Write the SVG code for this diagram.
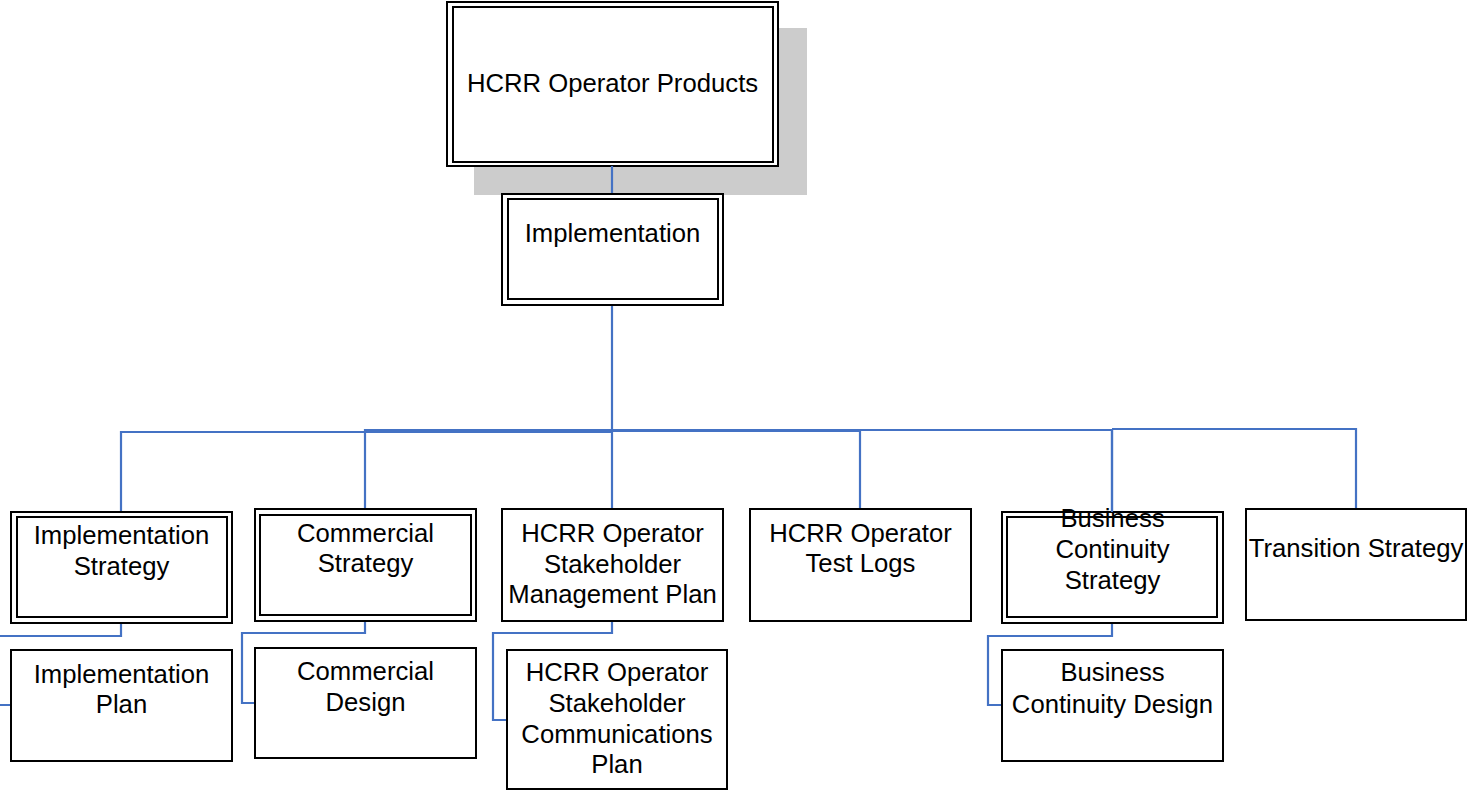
<svg xmlns="http://www.w3.org/2000/svg" width="1467" height="790" viewBox="0 0 1467 790">
<style>
.b{fill:#fff;stroke:#000;stroke-width:2}
.n{fill:none;stroke:#000;stroke-width:2}
.c{fill:none;stroke:#4472c4;stroke-width:2.2}
text{font-family:"Liberation Sans",Arial,sans-serif;font-size:25.7px;fill:#000;text-anchor:middle}
</style>
<rect width="1467" height="790" fill="#fff"/>
<g id="connectors">
<path class="c" d="M612,305V430"/>
<path class="c" d="M612,432H121V512"/>
<path class="c" d="M612,430H365V509"/>
<path class="c" d="M612,429V509"/>
<path class="c" d="M612,431H860V509"/>
<path class="c" d="M612,430H1112V512"/>
<path class="c" d="M1112,429H1356V509"/>
<path class="c" d="M121,623V636H-5V705H11"/>
<path class="c" d="M365,621V633H242V703H255"/>
<path class="c" d="M612,621V633H493V720H507"/>
<path class="c" d="M1112,623V636H988V705H1002"/>
</g>
<g id="root">
<rect x="474" y="28" width="333" height="167" fill="#cccccc"/>
<rect class="b" x="447" y="2" width="331" height="164"/>
<rect class="n" x="453" y="7" width="320" height="155"/>
<text x="612.5" y="92">HCRR Operator Products</text>
</g>
<path class="c" d="M612,166V194"/>
<g id="implementation">
<rect class="b" x="502" y="194" width="221" height="111"/>
<rect class="n" x="508" y="199" width="210" height="100"/>
<text x="612.5" y="242">Implementation</text>
</g>
<g id="impl-strategy">
<rect class="b" x="11" y="512" width="221" height="111"/>
<rect class="n" x="17" y="517" width="210" height="100"/>
<text x="121.5" y="544">Implementation</text>
<text x="121.5" y="575">Strategy</text>
</g>
<g id="impl-plan">
<rect class="b" x="11" y="650" width="221" height="111"/>
<text x="121.5" y="683">Implementation</text>
<text x="121.5" y="713">Plan</text>
</g>
<g id="comm-strategy">
<rect class="b" x="255" y="509" width="221" height="112"/>
<rect class="n" x="260" y="515" width="211" height="100"/>
<text x="365.5" y="542">Commercial</text>
<text x="365.5" y="572">Strategy</text>
</g>
<g id="comm-design">
<rect class="b" x="255" y="648" width="221" height="110"/>
<text x="365.5" y="680">Commercial</text>
<text x="365.5" y="711">Design</text>
</g>
<g id="stakeholder-mgmt">
<rect class="b" x="502" y="509" width="221" height="112"/>
<text x="612.5" y="542">HCRR Operator</text>
<text x="612.5" y="573">Stakeholder</text>
<text x="612.5" y="603">Management Plan</text>
</g>
<g id="stakeholder-comm">
<rect class="b" x="507" y="650" width="220" height="139"/>
<text x="617" y="681">HCRR Operator</text>
<text x="617" y="712">Stakeholder</text>
<text x="617" y="743">Communications</text>
<text x="617" y="773">Plan</text>
</g>
<g id="test-logs">
<rect class="b" x="750" y="509" width="221" height="112"/>
<text x="860.5" y="542">HCRR Operator</text>
<text x="860.5" y="572">Test Logs</text>
</g>
<g id="bc-strategy">
<rect class="b" x="1002" y="512" width="221" height="111"/>
<rect class="n" x="1007" y="517" width="210" height="100"/>
<text x="1112.5" y="527">Business</text>
<text x="1112.5" y="558">Continuity</text>
<text x="1112.5" y="589">Strategy</text>
</g>
<path class="c" d="M1112,430V512"/>
<g id="bc-design">
<rect class="b" x="1002" y="650" width="221" height="111"/>
<text x="1112.5" y="681">Business</text>
<text x="1112.5" y="713">Continuity Design</text>
</g>
<g id="transition">
<rect class="b" x="1246" y="509" width="220" height="111"/>
<text x="1356" y="557">Transition Strategy</text>
</g>
</svg>
